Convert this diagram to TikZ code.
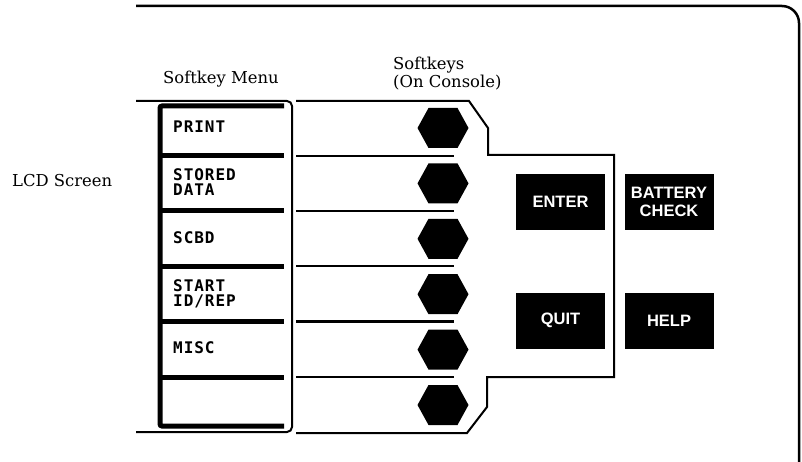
\documentclass[tikz,border=0pt]{standalone}
\usepackage{fontspec}
\usepackage{tikz}
\newfontfamily\menufont[LetterSpace=6]{DejaVu Sans Mono}
\newfontfamily\btnfont{Liberation Sans}
\newfontfamily\labelfont{DejaVu Serif}
\def\softkey{+(-25.5,0) -- +(-14.5,-20) -- +(14.5,-20) -- +(25.5,0) -- +(14.5,20) -- +(-14.5,20) -- cycle}
\tikzset{
  menu/.style={anchor=west,inner sep=0pt,align=left,font=\menufont\bfseries\fontsize{16pt}{14.5pt}\selectfont},
  button/.style={fill=black,text=white,minimum width=89pt,minimum height=56pt,inner sep=0pt,align=center,font=\btnfont\bfseries\fontsize{16.5pt}{17.5pt}\selectfont},
  label text/.style={anchor=base west,inner sep=0pt,font=\labelfont\fontsize{16.4pt}{18pt}\selectfont}
}

\begin{document}
\begin{tikzpicture}[x=1pt,y=-1pt]
			\useasboundingbox (0,0) rectangle (802,462);
			\draw[line width=2.5pt,rounded corners=17pt] (136,6) -| (799,470);
			\draw[line width=2pt,rounded corners=5pt] (136,101) -| (292,432) -- (136,432);
			\draw[line width=5pt,rounded corners=2pt] (284,106) -- (160,106) -- (160,426) -- (284,426);
			\draw[line width=2pt] (296,101) -- (469,101) -- (488,128) -- (488,155) -- (614,155)
				-- (614,377) -- (487,377) -- (487,407) -- (467,433) -- (296,433);
			\foreach \y in {156,211,266,321.5,377} {
				\draw[line width=5pt] (160,\y) -- (284,\y);
				\draw[line width=2.5pt] (296,\y) -- (454,\y);
			}
			\foreach \y [count=\i] in {128,183.4,238.8,294.2,349.6,405} {
				\coordinate (key\i) at (443,\y);
				\fill (key\i) \softkey;
			}
			\node[menu] (print) at (173,126.5) {PRINT};
			\node[menu] (stored) at (173,182) {STORED\\DATA};
			\node[menu] (scbd) at (173,237.5) {SCBD};
			\node[menu] (start) at (173,294) {START\\ID/REP};
			\node[menu] (misc) at (173,348) {MISC};
			\node[button] (enter) at (560.5,202) {ENTER};
			\node[button] (battery) at (669,202) {BATTERY\\CHECK};
			\node[button] (quit) at (560.5,320.5) {QUIT};
			\node[button] (help) at (669,320.5) {HELP};
			\node[label text] (lcd) at (12,187) {LCD Screen};
			\node[label text] (menu) at (163,84) {Softkey Menu};
			\node[label text] (console) at (393,88) {(On Console)};
			\node[label text] (softkeys) at ([yshift=18pt]console.base west) {Softkeys};
		\end{tikzpicture}
\end{document}
